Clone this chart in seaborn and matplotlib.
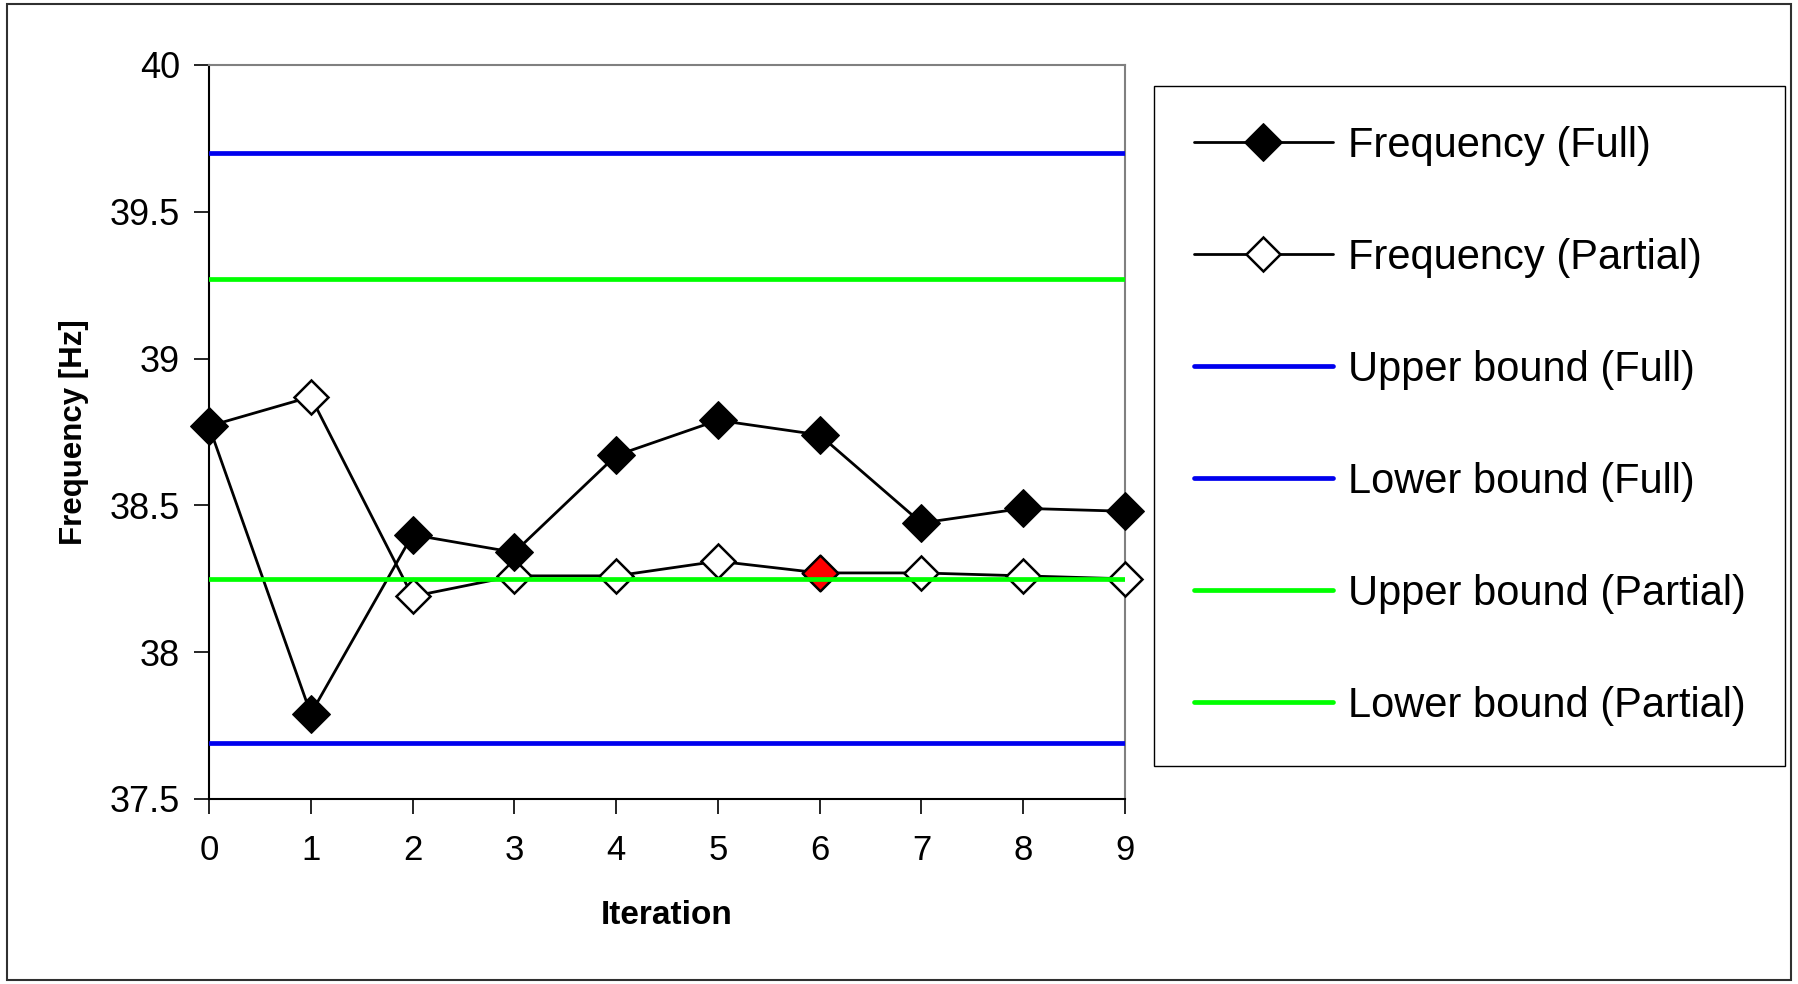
import matplotlib
matplotlib.use("Agg")
import matplotlib.pyplot as plt
from matplotlib.patches import Rectangle
import seaborn as sns
import pandas as pd

# Convergence of the estimated frequency over the iterations
iterations = [0, 1, 2, 3, 4, 5, 6, 7, 8, 9]
freq_full = [38.77, 37.79, 38.40, 38.34, 38.67, 38.79, 38.74, 38.44, 38.49, 38.48]
freq_partial = [38.77, 38.87, 38.19, 38.26, 38.26, 38.31, 38.27, 38.27, 38.26, 38.25]

# Admissible frequency bands
upper_full = 39.70
lower_full = 37.69
upper_partial = 39.27
lower_partial = 38.25

highlight_iter = 6
y_ticks = [37.5, 38, 38.5, 39, 39.5, 40]

sns.set_theme(style="white")
plt.rcParams["font.family"] = ["Liberation Sans", "DejaVu Sans"]
plt.rcParams["text.color"] = "black"
plt.rcParams["axes.labelcolor"] = "black"
plt.rcParams["xtick.color"] = "black"
plt.rcParams["ytick.color"] = "black"

df = pd.DataFrame({"Iteration": iterations,
                   "Full": freq_full,
                   "Partial": freq_partial})

fig = plt.figure(figsize=(17.98, 9.84), dpi=100)
ax = fig.add_axes([209 / 1798, 1 - 799 / 984, (1125 - 209) / 1798, (799 - 65) / 984])

sns.lineplot(data=df, x="Iteration", y="Partial", ax=ax, color="black", lw=2.0,
             marker="D", markersize=17, markerfacecolor="white",
             markeredgecolor="black", markeredgewidth=1.8, clip_on=False,
             zorder=3, label="Frequency (Partial)")
sns.lineplot(data=df, x="Iteration", y="Full", ax=ax, color="black", lw=2.0,
             marker="D", markersize=19, markerfacecolor="black",
             markeredgecolor="black", clip_on=False, zorder=3.5,
             label="Frequency (Full)")

# highlighted point of the partial run
hl = df[df["Iteration"] == highlight_iter]
sns.scatterplot(data=hl, x="Iteration", y="Partial", ax=ax, marker="D", s=330,
                color="red", edgecolor="black", linewidth=1.8, zorder=4,
                legend=False)

ax.axhline(upper_full, color="#0000ee", lw=3.4, zorder=5, label="Upper bound (Full)")
ax.axhline(lower_full, color="#0000ee", lw=3.4, zorder=5, label="Lower bound (Full)")
ax.axhline(upper_partial, color="#00ff00", lw=3.4, zorder=5, label="Upper bound (Partial)")
ax.axhline(lower_partial, color="#00ff00", lw=3.4, zorder=5, label="Lower bound (Partial)")

ax.set_xlim(0, 9)
ax.set_ylim(37.5, 40)
ax.set_xticks(iterations)
ax.set_yticks(y_ticks)
ax.set_yticklabels([f"{v:g}" for v in y_ticks])
ax.tick_params(axis="both", which="major", direction="out", length=11, width=1.2,
               color="black", bottom=True, left=True)
ax.tick_params(axis="y", labelsize=26, pad=10)
ax.tick_params(axis="x", labelsize=25, pad=14)

ax.set_xlabel("Iteration", fontsize=24, fontweight="bold", labelpad=24)
ax.set_ylabel("Frequency [Hz]", fontsize=22.5, fontweight="bold", labelpad=15)

for side in ["left", "bottom"]:
    ax.spines[side].set_color("black")
    ax.spines[side].set_linewidth(1.5)
for side in ["top", "right"]:
    ax.spines[side].set_color("#808080")
    ax.spines[side].set_linewidth(1.5)
ax.grid(False)

handles, labels = ax.get_legend_handles_labels()
order = ["Frequency (Full)", "Frequency (Partial)", "Upper bound (Full)",
         "Lower bound (Full)", "Upper bound (Partial)", "Lower bound (Partial)"]
lookup = dict(zip(labels, handles))
if ax.get_legend() is not None:
    ax.get_legend().remove()
leg = fig.legend([lookup[k] for k in order], order, loc="upper left",
                 bbox_to_anchor=(1154 / 1798, 1 - 86 / 984),
                 fontsize=30, frameon=True, fancybox=False, framealpha=1,
                 edgecolor="black", borderpad=0.95, labelspacing=1.73,
                 handlelength=3.35, handletextpad=0.35, borderaxespad=0)
leg.get_frame().set_linewidth(1.0)

# outer frame around the whole chart
fig.patches.append(Rectangle((7 / 1798, 4 / 984), (1791 - 7) / 1798, (980 - 4) / 984,
                             transform=fig.transFigure, fill=False,
                             edgecolor="#303030", lw=1.5))

fig.savefig("out.png", dpi=100, facecolor="white")
